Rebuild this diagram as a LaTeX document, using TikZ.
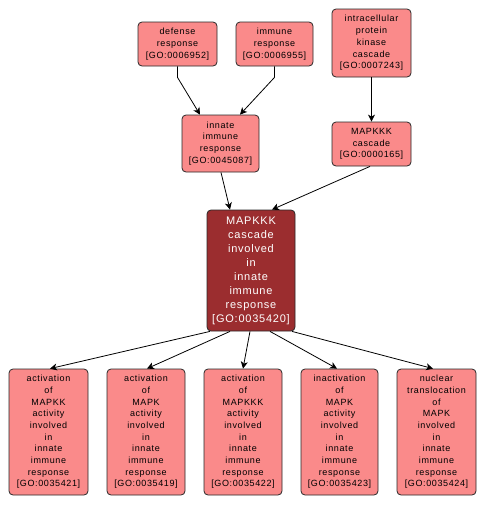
\documentclass[tikz,border=0pt]{standalone}
\usepackage{fontspec}
\newfontfamily\lblfont[LetterSpace=7]{Liberation Sans}
\usetikzlibrary{arrows.meta}
\definecolor{nodefill}{RGB}{250,138,138}
\definecolor{mainfill}{RGB}{155,45,47}
\definecolor{edgecol}{RGB}{40,40,40}
\tikzset{
  box/.style={draw=edgecol, line width=0.8pt, fill=nodefill, rounded corners=4pt,
    align=center, inner sep=0pt, anchor=center,
    font={\lblfont\fontsize{9}{11.7}\selectfont}},
  mainbox/.style={box, fill=mainfill, text=white,
    font={\lblfont\fontsize{11}{14}\selectfont}},
  arr/.style={draw=black, line width=0.8pt, -{Stealth[length=7pt,width=7pt,inset=2pt]}}
}
\begin{document}
\begin{tikzpicture}[x=1pt,y=-1pt]
\useasboundingbox (0,0) rectangle (485,507);
\node[box, minimum width=79pt, minimum height=44pt] (def) at (177.5,44) {defense\\response\\{[}GO:0006952{]}};
\node[box, minimum width=77pt, minimum height=44pt] (imm) at (274.5,44) {immune\\response\\{[}GO:0006955{]}};
\node[box, minimum width=79pt, minimum height=68pt] (ipk) at (371.5,43) {intracellular\\protein\\kinase\\cascade\\{[}GO:0007243{]}};
\node[box, minimum width=77pt, minimum height=57pt] (inn) at (220.5,143.5) {innate\\immune\\response\\{[}GO:0045087{]}};
\node[box, minimum width=79pt, minimum height=44pt] (mk) at (371.5,144) {MAPKKK\\cascade\\{[}GO:0000165{]}};
\node[mainbox, minimum width=88pt, minimum height=121pt] (c) at (251,270.5) {MAPKKK\\cascade\\involved\\in\\innate\\immune\\response\\{[}GO:0035420{]}};
\node[box, minimum width=79pt, minimum height=126pt] (b1) at (48.5,432) {activation\\of\\MAPKK\\activity\\involved\\in\\innate\\immune\\response\\{[}GO:0035421{]}};
\node[box, minimum width=78pt, minimum height=126pt] (b2) at (146,432) {activation\\of\\MAPK\\activity\\involved\\in\\innate\\immune\\response\\{[}GO:0035419{]}};
\node[box, minimum width=78pt, minimum height=126pt] (b3) at (243,432) {activation\\of\\MAPKKK\\activity\\involved\\in\\innate\\immune\\response\\{[}GO:0035422{]}};
\node[box, minimum width=77pt, minimum height=126pt] (b4) at (339.5,432) {inactivation\\of\\MAPK\\activity\\involved\\in\\innate\\immune\\response\\{[}GO:0035423{]}};
\node[box, minimum width=79pt, minimum height=126pt] (b5) at (436.5,432) {nuclear\\translocation\\of\\MAPK\\involved\\in\\innate\\immune\\response\\{[}GO:0035424{]}};
\draw[arr] (def.south) -- ++(0,11) -- ([xshift=-20.5pt]inn.north);
\draw[arr] (imm.south) -- ++(0,11) -- ([xshift=19.5pt]inn.north);
\draw[arr] (ipk.south) -- (mk.north);
\draw[arr] ([xshift=0.5pt]inn.south) -- ([xshift=-21pt]c.north);
\draw[arr] ([xshift=-1.5pt]mk.south) -- ([xshift=21pt]c.north);
\draw[arr] ([xshift=-41pt]c.south) -- ([xshift=1.5pt]b1.north);
\draw[arr] ([xshift=-21pt]c.south) -- ([xshift=1pt]b2.north);
\draw[arr] ([xshift=-1pt]c.south) -- (b3.north);
\draw[arr] ([xshift=19pt]c.south) -- ([xshift=-2.5pt]b4.north);
\draw[arr] ([xshift=41pt]c.south) -- ([xshift=-3.5pt]b5.north);
\end{tikzpicture}
\end{document}
